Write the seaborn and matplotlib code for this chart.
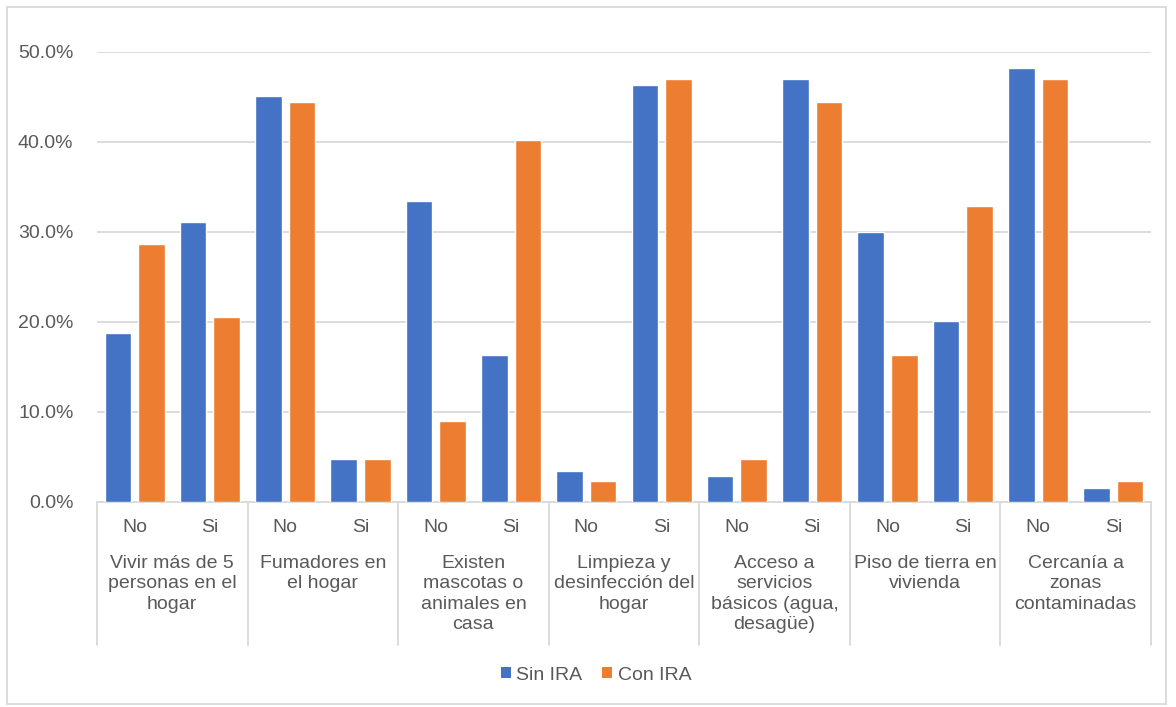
import matplotlib
matplotlib.use("Agg")
import matplotlib.pyplot as plt
from matplotlib.patches import Patch, Rectangle
from matplotlib.ticker import PercentFormatter, MultipleLocator
import pandas as pd
import seaborn as sns

# Risk factors (outer category) and answers (inner category)
factores = [
    "Vivir más de 5\npersonas en el\nhogar",
    "Fumadores en\nel hogar",
    "Existen\nmascotas o\nanimales en\ncasa",
    "Limpieza y\ndesinfección del\nhogar",
    "Acceso a\nservicios\nbásicos (agua,\ndesagüe)",
    "Piso de tierra en\nvivienda",
    "Cercanía a\nzonas\ncontaminadas",
]
respuestas = ["No", "Si"]

# Percentages per factor, in order (No, Si)
sin_ira = [18.8, 31.1, 45.1, 4.8, 33.5, 16.3, 3.4, 46.3, 2.9, 47.0, 30.0, 20.1, 48.2, 1.6]
con_ira = [28.7, 20.6, 44.5, 4.8, 9.0, 40.2, 2.3, 47.0, 4.8, 44.5, 16.3, 32.9, 47.0, 2.3]

series = ["Sin IRA", "Con IRA"]
colores = ["#4472C4", "#ED7D31"]

claves = [f"{i}|{r}" for i in range(len(factores)) for r in respuestas]
df = pd.DataFrame({
    "clave": claves * 2,
    "serie": [series[0]] * len(claves) + [series[1]] * len(claves),
    "valor": sin_ira + con_ira,
})

sns.set_theme(style="white")
plt.rcParams["font.family"] = ["Liberation Sans", "DejaVu Sans"]
texto = "#595959"
linea = "#D9D9D9"

fig = plt.figure(figsize=(11.76, 7.07), dpi=100)
fig.patch.set_facecolor("white")
ax = fig.add_axes([97 / 1176, 1 - 502 / 707, (1151 - 97) / 1176, 450 / 707])

sns.barplot(data=df, x="clave", y="valor", hue="serie", order=claves,
            hue_order=series, palette=colores, width=0.894, gap=0.21,
            saturation=1, legend=False, ax=ax, zorder=3)

ax.set_ylim(0, 50)
ax.set_xlim(-0.5, len(claves) - 0.5)
ax.yaxis.set_major_locator(MultipleLocator(10))
ax.yaxis.set_major_formatter(PercentFormatter(100, decimals=1))
ax.grid(axis="y", color=linea, linewidth=1.3, zorder=0)
ax.set_axisbelow(True)
for lado in ["top", "right", "left"]:
    ax.spines[lado].set_visible(False)
ax.spines["bottom"].set_color(linea)
ax.spines["bottom"].set_linewidth(1.3)
ax.set_xlabel("")
ax.set_ylabel("")

ax.set_xticks(range(len(claves)))
ax.set_xticklabels([c.split("|")[1] for c in claves])
ax.tick_params(axis="x", length=0, pad=12, labelsize=14, labelcolor=texto)
ax.tick_params(axis="y", length=0, pad=17, labelsize=14, labelcolor=texto)

# Outer-level category separators and labels
trans = ax.get_xaxis_transform()
for k in range(len(factores) + 1):
    xs = 2 * k - 0.5
    ax.plot([xs, xs], [0, -0.318], transform=trans, color=linea,
            linewidth=1.3, clip_on=False)
for i, nombre in enumerate(factores):
    ax.text(2 * i + 0.5, -0.118, nombre, transform=trans, ha="center",
            va="top", fontsize=14, color=texto, linespacing=1.25)

# Legend
handles = [Patch(facecolor=c, edgecolor="none", label=s) for s, c in zip(series, colores)]
fig.legend(handles=handles, loc="center", bbox_to_anchor=(596 / 1176, 1 - 675 / 707),
           ncol=2, frameon=False, fontsize=14, labelcolor=texto,
           handlelength=0.5, handleheight=0.5, handletextpad=0.3, columnspacing=1.0)

# Chart-area border
fig.add_artist(Rectangle((7 / 1176, 3 / 707), (1166 - 7) / 1176, (704 - 7) / 707,
                         transform=fig.transFigure, fill=False, edgecolor=linea,
                         linewidth=1.3))

fig.savefig("out.png", dpi=100, facecolor="white")
